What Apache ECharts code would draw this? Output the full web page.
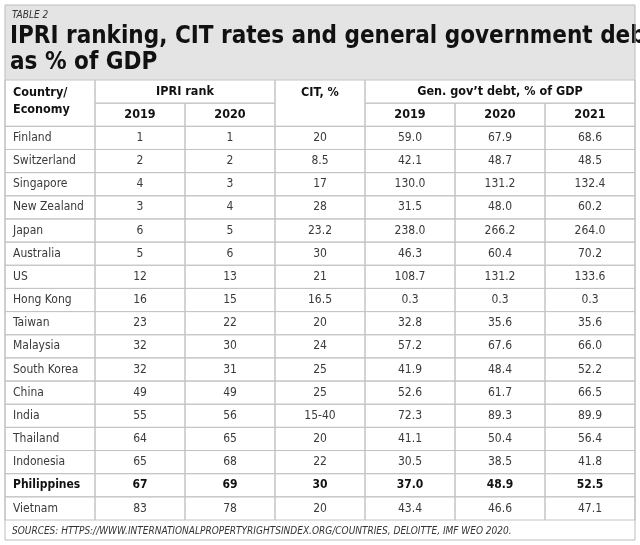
<!DOCTYPE html>
<html>
<head>
<meta charset="utf-8">
<script src="https://cdn.jsdelivr.net/npm/echarts@6/dist/echarts.min.js"></script>
<style>
  html, body { margin: 0; padding: 0; background: #fff; }
  #main { width: 640px; height: 545px; }
</style>
</head>
<body>
<div id="main"></div>
<script>
const FONT = "'DejaVu Sans Condensed', 'Liberation Sans Narrow', 'Noto Sans', sans-serif";

const columns = ['Country', 'IPRI2019', 'IPRI2020', 'CIT', 'Debt2019', 'Debt2020', 'Debt2021'];
const countries = ['Finland', 'Switzerland', 'Singapore', 'New Zealand', 'Japan', 'Australia', 'US',
  'Hong Kong', 'Taiwan', 'Malaysia', 'South Korea', 'China', 'India', 'Thailand', 'Indonesia',
  'Philippines', 'Vietnam'];
const ipri2019 = ['1', '2', '4', '3', '6', '5', '12', '16', '23', '32', '32', '49', '55', '64', '65', '67', '83'];
const ipri2020 = ['1', '2', '3', '4', '5', '6', '13', '15', '22', '30', '31', '49', '56', '65', '68', '69', '78'];
const citRate = ['20', '8.5', '17', '28', '23.2', '30', '21', '16.5', '20', '24', '25', '25', '15-40', '20', '22', '30', '20'];
const debt2019 = ['59.0', '42.1', '130.0', '31.5', '238.0', '46.3', '108.7', '0.3', '32.8', '57.2', '41.9', '52.6', '72.3', '41.1', '30.5', '37.0', '43.4'];
const debt2020 = ['67.9', '48.7', '131.2', '48.0', '266.2', '60.4', '131.2', '0.3', '35.6', '67.6', '48.4', '61.7', '89.3', '50.4', '38.5', '48.9', '46.6'];
const debt2021 = ['68.6', '48.5', '132.4', '60.2', '264.0', '70.2', '133.6', '0.3', '35.6', '66.0', '52.2', '66.5', '89.9', '56.4', '41.8', '52.5', '47.1'];
const highlight = 'Philippines';

const rows = ['h1', 'h2'].concat(countries);

// cell: [col, row, text, colspan, rowspan, bold, align, valign]
const cells = [
  [0, 0, 'Country/\nEconomy', 1, 2, true, 'left', 'top'],
  [1, 0, 'IPRI rank', 2, 1, true, 'center', 'middle'],
  [3, 0, 'CIT, %', 1, 2, true, 'center', 'top'],
  [4, 0, 'Gen. gov\u2019t debt, % of GDP', 3, 1, true, 'center', 'middle'],
  [1, 1, '2019', 1, 1, true, 'center', 'middle'],
  [2, 1, '2020', 1, 1, true, 'center', 'middle'],
  [4, 1, '2019', 1, 1, true, 'center', 'middle'],
  [5, 1, '2020', 1, 1, true, 'center', 'middle'],
  [6, 1, '2021', 1, 1, true, 'center', 'middle']
];
countries.forEach((c, i) => {
  const r = i + 2;
  const b = c === highlight;
  const vals = [c, ipri2019[i], ipri2020[i], citRate[i], debt2019[i], debt2020[i], debt2021[i]];
  vals.forEach((v, col) => cells.push([col, r, v, 1, 1, b, col === 0 ? 'left' : 'center', 'middle']));
});

const chart = echarts.init(document.getElementById('main'));

chart.setOption({
  animation: false,
  backgroundColor: '#fff',
  graphic: [
    { type: 'rect', shape: { x: 5, y: 5, width: 630, height: 75 }, style: { fill: '#e4e4e4' }, z: -1 },
    { type: 'rect', shape: { x: 5, y: 5, width: 630, height: 535 }, style: { fill: 'none', stroke: '#bdbdbd', lineWidth: 1 }, z: 10 },
    { type: 'text', left: 12, top: 10, style: { text: 'TABLE 2', font: 'italic 10px ' + FONT, fill: '#333' } },
    { type: 'text', left: 10, top: 24, style: { text: 'IPRI ranking, CIT rates and general government debt\nas % of GDP', font: 'bold 24px ' + FONT, lineHeight: 26, fill: '#111' } },
    { type: 'text', left: 12, top: 526, style: { text: 'SOURCES: HTTPS://WWW.INTERNATIONALPROPERTYRIGHTSINDEX.ORG/COUNTRIES, DELOITTE, IMF WEO 2020.', font: 'italic 10px ' + FONT, fill: '#333' } }
  ],
  grid: { left: 5, right: 5, top: 80, bottom: 25 },
  xAxis: { type: 'category', data: columns, show: false },
  yAxis: { type: 'category', data: rows, inverse: true, show: false },
  series: [{
    type: 'custom',
    data: cells,
    renderItem: (params, api) => {
      const d = cells[params.dataIndex];
      const c = api.coord([d[0], d[1]]);
      const s = api.size([1, 1]);
      const x = c[0] - s[0] / 2;
      const y = c[1] - s[1] / 2;
      const w = s[0] * d[3];
      const h = s[1] * d[4];
      const tx = d[6] === 'left' ? x + 8 : x + w / 2;
      const ty = d[7] === 'top' ? y + 4 : y + h / 2;
      const header = d[1] < 2;
      return {
        type: 'group',
        children: [
          { type: 'rect', shape: { x, y, width: w, height: h }, style: { fill: 'none', stroke: '#c4c4c4', lineWidth: 1 } },
          { type: 'text', style: {
              x: tx, y: ty, text: d[2], align: d[6], verticalAlign: d[7],
              font: (d[5] ? 'bold ' : '') + (header ? '12.5px ' : '12px ') + FONT,
              lineHeight: 17,
              fill: d[5] ? '#111' : '#3a3a3a'
          } }
        ]
      };
    }
  }]
});
</script>
</body>
</html>
